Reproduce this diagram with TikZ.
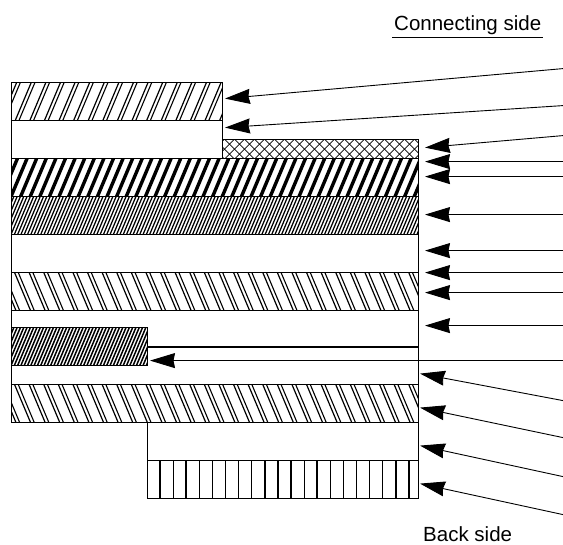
\documentclass[tikz,border=0pt]{standalone}
\usepackage{fontspec}
\setmainfont{Liberation Sans}
\usetikzlibrary{arrows.meta}
\tikzset{
  layer/.style={draw=black,line width=1pt},
  hatchline/.style={line width=1.2pt,line cap=butt},
  thin hatch/.style={line width=1.1pt,line cap=butt},
  cross hatch/.style={line width=0.8pt,line cap=butt},
  lead/.style={line width=0.9pt,-{Stealth[length=25pt,width=15pt,inset=1.5pt]}},
  lbl/.style={font=\fontsize{20.5pt}{22pt}\selectfont,inner sep=0pt}
}
\newcommand{\slantsolid}[7]{% x0 y0 x1 y1 period width dx
  \begin{scope}
    \clip (#1,#2) rectangle (#3,#4);
    \foreach \k in {-10,...,140}{
      \pgfmathsetmacro{\u}{#1+\k*#5}
      \draw[line width=#6pt,line cap=butt] ({\u},#4) -- ({\u+#7},#2);
    }
  \end{scope}}
\begin{document}
\begin{tikzpicture}[x=1pt,y=-1pt]
\useasboundingbox (0,-0.6) rectangle (563,544.4);
% hatch fills
\begin{scope}
  \clip (11,82) rectangle (222,120);
  \foreach \u in {-14,0.6,...,225}{
    \draw[hatchline] ({\u},120) -- ({\u+16},82);
    \draw[thin hatch] ({\u+3.7},120) -- ({\u+19.7},82);
  }
\end{scope}
\begin{scope}
  \clip (222,139) rectangle (418,158);
  \foreach \u in {195,205,...,430}{
    \draw[cross hatch] ({\u},158) -- ({\u+19},139);
    \draw[cross hatch] ({\u},139) -- ({\u+19},158);
  }
\end{scope}
\slantsolid{11}{158}{418}{196}{9.6}{3.4}{16}
\slantsolid{11}{196}{418}{234}{3.3}{1.25}{16}
\begin{scope}
  \clip (11,272) rectangle (418,310);
  \foreach \u in {0,14.6,...,430}{
    \draw[hatchline] ({\u},272) -- ({\u+16},310);
    \draw[thin hatch] ({\u+3.7},272) -- ({\u+19.7},310);
  }
\end{scope}
\slantsolid{11}{327}{147}{365}{3.3}{1.5}{16}
\begin{scope}
  \clip (11,384) rectangle (418,422);
  \foreach \u in {0,14.6,...,430}{
    \draw[hatchline] ({\u},384) -- ({\u+16},422);
    \draw[thin hatch] ({\u+3.7},384) -- ({\u+19.7},422);
  }
\end{scope}
\foreach \k in {0,...,19}{
  \pgfmathsetmacro{\w}{mod(\k,2)==0?1.6:1.2}
  \pgfmathsetmacro{\u}{160+13.1*\k}
  \draw[line width=\w pt] (\u,460) -- (\u,498);
}
% outlines
\draw[layer] (11,82) rectangle (222,120);
\draw[layer] (11,120) rectangle (222,158);
\draw[layer] (222,139) rectangle (418,158);
\draw[layer] (11,158) rectangle (418,196);
\draw[layer] (11,196) rectangle (418,234);
\draw[layer] (11,234) rectangle (418,272);
\draw[layer] (11,272) rectangle (418,310);
\draw[layer] (11,310) rectangle (418,384);
\draw[layer] (11,327) rectangle (147,365);
\draw[line width=1.6pt] (147,346.5) -- (418,346.5);
\draw[layer] (11,384) rectangle (418,422);
\draw[layer] (147,422) rectangle (418,460);
\draw[layer] (147,460) rectangle (418,498);
% leaders
\foreach \n/\tx/\ty/\hx/\hy in {
  1/563/68/225/98, 2/563/105/225/127, 3/563/135/425/147, 4/563/161/425/161,
  5/563/176/425/176, 6/563/214/425/214, 7/563/250/425/250, 8/563/272/425/272,
  9/563/292/425/292, 10/563/325/425/325, 11/563/360/150/360, 12/563/400/420/373,
  13/563/437/420/407, 14/563/476/420/445, 15/563/514/420/483}{
  \coordinate (tail\n) at (\tx,\ty);
  \coordinate (head\n) at (\hx,\hy);
  \draw[lead] (tail\n) -- (head\n);
}
% labels
\node[lbl,anchor=base west] (conn) at (394,30) {Connecting side};
\coordinate (ulA) at (392,37);
\coordinate (ulB) at (543,37);
\draw[line width=1pt] (ulA) -- (ulB);
\node[lbl,anchor=base west] (back) at (423,541) {Back side};
\end{tikzpicture}
\end{document}
